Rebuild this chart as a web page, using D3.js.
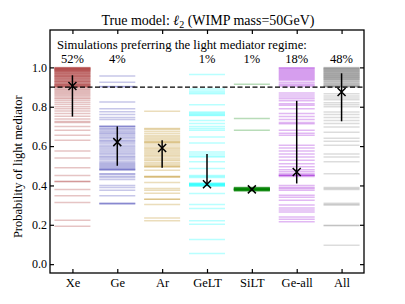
<!DOCTYPE html>
<html>
<head>
<meta charset="utf-8">
<script src="https://cdn.jsdelivr.net/npm/d3@7"></script>
<style>
  body { margin: 0; background: #fff; }
  svg { display: block; font-family: "Liberation Serif", "DejaVu Serif", serif; }
</style>
</head>
<body>
<svg id="chart" width="405" height="304"></svg>
<script>
// Categories and summary values
const categories = ["Xe", "Ge", "Ar", "GeLT", "SiLT", "Ge-all", "All"];
const colors = ["#a52a2a", "#3535b0", "#b8860b", "#00ffff", "#008000", "#9400d3", "#808080"];
const pctLabels = ["52%", "4%", "", "1%", "1%", "18%", "48%"];
const means = [0.905, 0.62, 0.59, 0.406, 0.38, 0.468, 0.875];
const errLo = [0.75, 0.50, 0.49, 0.40, 0.378, 0.41, 0.726];
const errHi = [0.96, 0.70, 0.63, 0.56, 0.382, 0.83, 0.97];
const threshold = 0.9;
const yTicks = [0, 0.2, 0.4, 0.6, 0.8, 1.0];

// Per-simulation probabilities (one horizontal line each)
const xeVals = [0.999, 0.998, 0.997, 0.995, 0.994, 0.992, 0.99, 0.989, 0.987, 0.985, 0.983, 0.981,
  0.979, 0.976, 0.974, 0.971, 0.969, 0.966, 0.963, 0.961, 0.958, 0.955, 0.953, 0.951,
  0.948, 0.945, 0.941, 0.938, 0.936, 0.933, 0.93, 0.927, 0.925, 0.922, 0.918, 0.916, 0.914,
  0.911, 0.909, 0.907, 0.905, 0.903, 0.902, 0.901, 0.992, 0.986, 0.978, 0.968, 0.957, 0.943,
  0.929, 0.913, 0.895, 0.889, 0.884, 0.878, 0.872, 0.866, 0.86, 0.853, 0.846, 0.84, 0.832,
  0.822, 0.812, 0.8, 0.79, 0.778, 0.765, 0.752, 0.738, 0.725, 0.72, 0.70, 0.68, 0.655, 0.63,
  0.575, 0.54, 0.49, 0.45, 0.42, 0.42, 0.38, 0.347, 0.313, 0.223, 0.193];
const geVals = [0.956, 0.925, 0.903, 0.901, 0.824, 0.79, 0.775, 0.76, 0.745, 0.735,
  0.702, 0.70, 0.698, 0.69, 0.685, 0.678, 0.672, 0.665, 0.66, 0.652, 0.645, 0.638, 0.63,
  0.625, 0.618, 0.61, 0.602, 0.595, 0.588, 0.58, 0.572, 0.565, 0.558, 0.55, 0.545, 0.538,
  0.53, 0.522, 0.515, 0.51, 0.505, 0.5, 0.495, 0.49, 0.485, 0.482, 0.48, 0.478,
  0.46, 0.457, 0.447, 0.44, 0.43, 0.40, 0.39, 0.376, 0.347, 0.31, 0.308, 0.306];
const arVals = [0.777, 0.69, 0.685, 0.675, 0.665, 0.655, 0.648, 0.64, 0.632, 0.625, 0.62, 0.618,
  0.61, 0.6, 0.592, 0.585, 0.578, 0.57, 0.562, 0.555, 0.548, 0.54, 0.532, 0.525, 0.515, 0.508,
  0.5, 0.496, 0.494, 0.477, 0.447, 0.443, 0.443, 0.415, 0.384, 0.375, 0.36, 0.33, 0.33, 0.303,
  0.235, 0.22];
const geltVals = [0.964, 0.89, 0.88, 0.872, 0.866, 0.81, 0.773, 0.768, 0.763, 0.758, 0.756,
  0.73, 0.715, 0.70, 0.69, 0.68, 0.646, 0.616, 0.57, 0.56, 0.55, 0.545, 0.52, 0.486, 0.45,
  0.445, 0.44, 0.412, 0.41, 0.409, 0.407, 0.405, 0.404, 0.402, 0.4, 0.398, 0.396,
  0.359, 0.303, 0.283, 0.22, 0.203, 0.125, 0.054];
const siltVals = [0.914, 0.74, 0.68, 0.39, 0.389, 0.388, 0.387, 0.386, 0.385, 0.384, 0.383,
  0.382, 0.382, 0.381, 0.381, 0.38, 0.38, 0.38, 0.379, 0.379, 0.378, 0.378, 0.377, 0.376,
  0.375, 0.374, 0.373, 0.372];
const geallVals = [0.998, 0.995, 0.99, 0.985, 0.98, 0.975, 0.97, 0.965, 0.96, 0.955, 0.95,
  0.945, 0.94, 0.935, 0.925, 0.915, 0.909, 0.903, 0.87, 0.86, 0.85, 0.84, 0.83, 0.815, 0.807,
  0.79, 0.765, 0.75, 0.735, 0.72, 0.714, 0.68, 0.665, 0.655, 0.604, 0.59, 0.575, 0.56, 0.545,
  0.528, 0.51, 0.495, 0.48, 0.47, 0.46, 0.452, 0.452, 0.45, 0.445, 0.4, 0.39, 0.385, 0.376,
  0.35, 0.34, 0.325, 0.3, 0.285, 0.275, 0.265, 0.24, 0.228, 0.215];
const allVals = [0.998, 0.996, 0.994, 0.992, 0.99, 0.987, 0.985, 0.982, 0.98, 0.977, 0.975,
  0.972, 0.97, 0.967, 0.965, 0.962, 0.96, 0.957, 0.955, 0.952, 0.95, 0.947, 0.945, 0.943,
  0.94, 0.937, 0.934, 0.93, 0.927, 0.924, 0.92, 0.917, 0.914, 0.911, 0.908, 0.906, 0.904,
  0.903, 0.902, 0.901, 0.999, 0.993, 0.986, 0.978, 0.968, 0.958, 0.948, 0.938,
  0.866, 0.855, 0.845, 0.835, 0.82, 0.81, 0.8, 0.773, 0.76, 0.745, 0.73, 0.715, 0.697, 0.67,
  0.64, 0.625, 0.604, 0.56, 0.545, 0.52, 0.46, 0.39, 0.385, 0.38, 0.31, 0.303, 0.3, 0.198,
  0.195, 0.096];
const simVals = [xeVals, geVals, arVals, geltVals, siltVals, geallVals, allVals];

const svg = d3.select("#chart");
const plotL = 50, plotR = 364, plotT = 30, plotB = 273;

const x = d3.scalePoint().domain(categories).range([plotL, plotR]).padding(0.5);
const y = d3.scaleLinear().domain([-0.045, 1.19]).range([plotB, plotT]);
const halfW = 18;

// simulation lines
categories.forEach((cat, i) => {
  svg.append("g")
    .selectAll("line")
    .data(simVals[i])
    .join("line")
    .attr("x1", x(cat) - halfW)
    .attr("x2", x(cat) + halfW)
    .attr("y1", d => y(d))
    .attr("y2", d => y(d))
    .attr("stroke", colors[i])
    .attr("stroke-opacity", 0.28)
    .attr("stroke-width", 1.5);
});

// threshold line
svg.append("line")
  .attr("x1", plotL).attr("x2", plotR)
  .attr("y1", y(threshold)).attr("y2", y(threshold))
  .attr("stroke", "#000")
  .attr("stroke-width", 1.3)
  .attr("stroke-dasharray", "5,2.5");

// error bars and mean markers
const summary = svg.append("g");
categories.forEach((cat, i) => {
  const cx = x(cat), cy = y(means[i]);
  summary.append("line")
    .attr("x1", cx).attr("x2", cx)
    .attr("y1", y(errLo[i])).attr("y2", y(errHi[i]))
    .attr("stroke", "#000").attr("stroke-width", 1.5);
  summary.append("path")
    .attr("d", `M${cx - 4},${cy - 4}L${cx + 4},${cy + 4}M${cx - 4},${cy + 4}L${cx + 4},${cy - 4}`)
    .attr("stroke", "#000").attr("stroke-width", 1.5);
});

// axes (ticks pointing inward)
const yAxisL = svg.append("g").attr("transform", `translate(${plotL},0)`)
  .call(d3.axisLeft(y).tickValues(yTicks).tickFormat(d3.format(".1f")).tickSize(-4).tickPadding(3));
const yAxisR = svg.append("g").attr("transform", `translate(${plotR},0)`)
  .call(d3.axisRight(y).tickValues(yTicks).tickFormat("").tickSize(-4));
const xAxisB = svg.append("g").attr("transform", `translate(0,${plotB})`)
  .call(d3.axisBottom(x).tickSize(-4).tickPadding(5));
const xAxisT = svg.append("g").attr("transform", `translate(0,${plotT})`)
  .call(d3.axisTop(x).tickFormat("").tickSize(-4));

[yAxisL, yAxisR, xAxisB, xAxisT].forEach(g => {
  g.attr("font-family", null);
  g.select(".domain").remove();
  g.selectAll(".tick line").attr("stroke", "#000").attr("stroke-width", 1.2);
  g.selectAll("text").attr("fill", "#000");
});
yAxisL.selectAll("text").style("font-size", "12px");
xAxisB.selectAll("text").style("font-size", "12.5px");

// frame
svg.append("rect")
  .attr("x", plotL).attr("y", plotT)
  .attr("width", plotR - plotL).attr("height", plotB - plotT)
  .attr("fill", "none").attr("stroke", "#000").attr("stroke-width", 1.3);

// texts
const title = svg.append("text")
  .attr("x", (plotL + plotR) / 2 + 1).attr("y", 25)
  .attr("text-anchor", "middle")
  .style("font-size", "14px");
title.append("tspan").text("True model: ");
title.append("tspan").style("font-style", "italic").text("ℓ");
title.append("tspan").attr("dy", 3).style("font-size", "10px").text("2");
title.append("tspan").attr("dy", -3).text(" (WIMP mass=50GeV)");

svg.append("text")
  .attr("x", 57).attr("y", 49)
  .style("font-size", "12.7px")
  .text("Simulations preferring the light mediator regime:");

svg.append("g")
  .selectAll("text")
  .data(categories)
  .join("text")
  .attr("x", d => x(d))
  .attr("y", 63)
  .attr("text-anchor", "middle")
  .style("font-size", "12.5px")
  .text((d, i) => pctLabels[i]);

svg.append("text")
  .attr("transform", `translate(22,${(y(0) + y(1)) / 2 + 1}) rotate(-90)`)
  .attr("text-anchor", "middle")
  .style("font-size", "12.5px")
  .text("Probability of light mediator");
</script>
</body>
</html>
